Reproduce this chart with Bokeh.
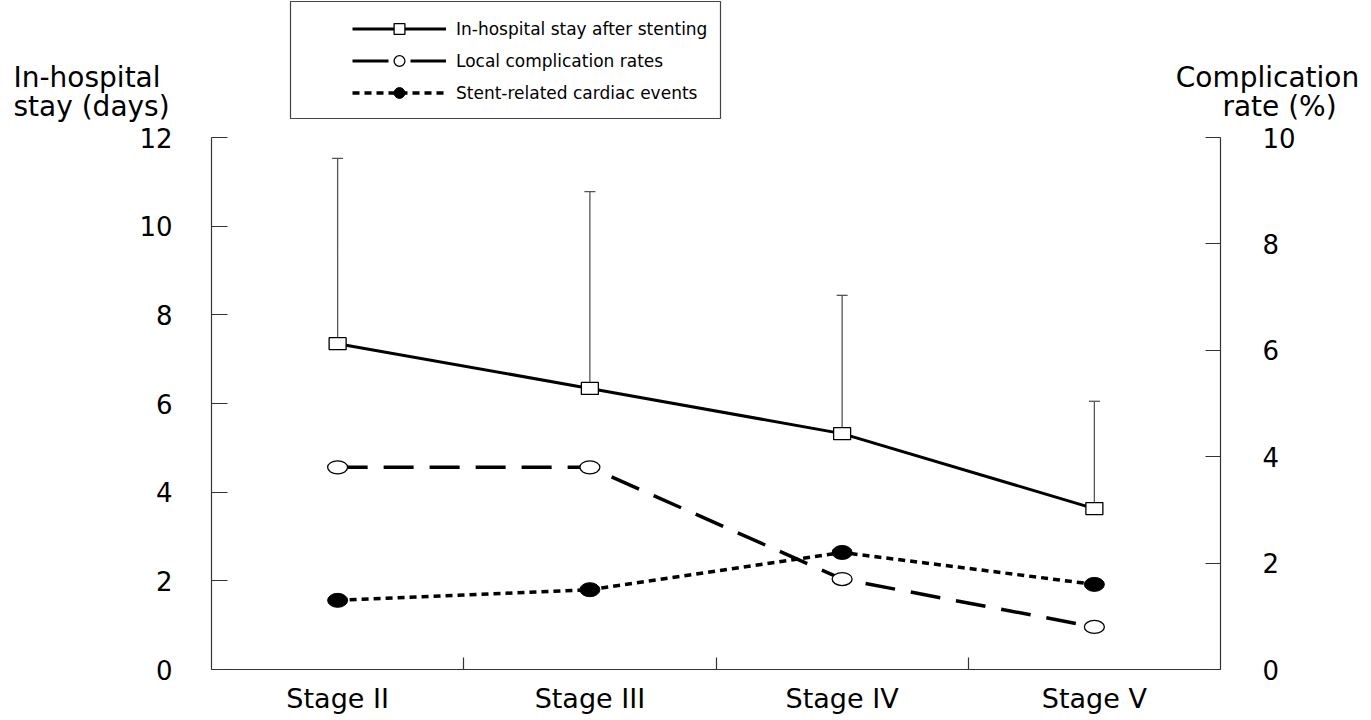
from bokeh.plotting import figure
from bokeh.models import (Range1d, LinearAxis, FixedTicker, Legend, LegendItem, Label,
                          Whisker, TeeHead, ColumnDataSource, BoxAnnotation)
from bokeh.embed import file_html
from bokeh.resources import INLINE

# ---- data ----
stages = ["Stage II", "Stage III", "Stage IV", "Stage V"]
stay_mean = [7.35, 6.34, 5.32, 3.63]        # days (left axis)
stay_upper = [11.53, 10.78, 8.44, 6.05]     # mean + SD (days)
local_rate = [3.8, 3.8, 1.7, 0.8]           # % (right axis)
cardiac_rate = [1.3, 1.5, 2.2, 1.6]         # % (right axis)
left_ticks = [0, 2, 4, 6, 8, 10, 12]
right_ticks = [0, 2, 4, 6, 8, 10]
series_names = ["In-hospital stay after stenting", "Local complication rates",
                "Stent-related cardiac events"]
left_title = ["In-hospital", "stay (days)"]
right_title = ["Complication", "rate (%)"]

# ---- layout (pixels) ----
W, H = 1371, 720
PX_L, PX_R, PX_T, PX_B = 211, 1220, 137, 669   # plotting area inside the canvas
LEFT_MAX, RIGHT_MAX = 12, 10
AX = "#333333"
FONT = "DejaVu Sans"

n = len(stages)
xpos = [i + 0.5 for i in range(n)]
bounds = [i for i in range(1, n)]

xs = n / (PX_R - PX_L)
ys = LEFT_MAX / (PX_B - PX_T)
rs = RIGHT_MAX / (PX_B - PX_T)

src = ColumnDataSource(dict(x=xpos, stay=stay_mean, upper=stay_upper,
                            local=local_rate, cardiac=cardiac_rate))

p = figure(width=W, height=H, output_backend="svg", toolbar_location=None,
           x_range=Range1d(-PX_L * xs, n + (W - PX_R) * xs),
           y_range=Range1d(-(H - PX_B) * ys, LEFT_MAX + PX_T * ys),
           x_axis_type=None, y_axis_type=None,
           min_border_left=0, min_border_right=0, min_border_top=0, min_border_bottom=0)
p.extra_y_ranges = {"rate": Range1d(-(H - PX_B) * rs, RIGHT_MAX + PX_T * rs)}
p.outline_line_color = None
p.background_fill_color = "white"
p.border_fill_color = "white"

# bottom axis: labels at category centres, ticks at boundaries
xaxis = LinearAxis(ticker=FixedTicker(ticks=xpos, minor_ticks=bounds),
                   major_label_overrides={x: s for x, s in zip(xpos, stages)},
                   fixed_location=0, bounds=(0, n))
xaxis.major_tick_line_color = None
xaxis.major_tick_in = 0
xaxis.major_tick_out = 0
xaxis.minor_tick_in = 12
xaxis.minor_tick_out = 0
xaxis.minor_tick_line_color = AX
xaxis.minor_tick_line_width = 1.2
xaxis.axis_line_color = AX
xaxis.axis_line_width = 1.2
xaxis.major_label_text_font = FONT
xaxis.major_label_text_font_size = "27px"
xaxis.major_label_text_color = "black"
xaxis.major_label_standoff = 13
p.add_layout(xaxis, "below")

yaxis = LinearAxis(ticker=FixedTicker(ticks=left_ticks), fixed_location=0,
                   bounds=(0, LEFT_MAX))
yaxis.major_tick_in = 16
yaxis.major_tick_out = 0
yaxis.minor_tick_line_color = None
yaxis.major_tick_line_color = AX
yaxis.major_tick_line_width = 1.2
yaxis.axis_line_color = AX
yaxis.axis_line_width = 1.2
yaxis.major_label_text_font = FONT
yaxis.major_label_text_font_size = "26px"
yaxis.major_label_text_color = "black"
yaxis.major_label_standoff = 39
p.add_layout(yaxis, "left")

raxis = LinearAxis(y_range_name="rate", ticker=FixedTicker(ticks=right_ticks),
                   fixed_location=n, bounds=(0, RIGHT_MAX))
raxis.major_tick_in = 15
raxis.major_tick_out = 0
raxis.minor_tick_line_color = None
raxis.major_tick_line_color = AX
raxis.major_tick_line_width = 1.2
raxis.axis_line_color = AX
raxis.axis_line_width = 1.2
raxis.major_label_text_font = FONT
raxis.major_label_text_font_size = "26px"
raxis.major_label_text_color = "black"
raxis.major_label_standoff = 42
p.add_layout(raxis, "right")

# error bars (upper only)
whisker = Whisker(base="x", upper="upper", lower="stay", source=src, dimension="height",
                  line_color="#555555", line_width=1.3,
                  upper_head=TeeHead(size=11, line_color="#555555", line_width=1.3),
                  lower_head=None, level="underlay")
p.add_layout(whisker)

stay_line = p.line("x", "stay", source=src, line_color="black", line_width=3)
p.rect("x", "stay", source=src, width=17, height=12, width_units="screen",
       height_units="screen", fill_color="white", line_color="black", line_width=1.3)

p.line("x", "local", source=src, y_range_name="rate", line_color="black",
       line_width=3.5, line_dash="30 16")
p.ellipse("x", "local", source=src, y_range_name="rate", width=20, height=13,
          width_units="screen", height_units="screen",
          fill_color="white", line_color="black", line_width=1.3)

card_line = p.line("x", "cardiac", source=src, y_range_name="rate", line_color="black",
                   line_width=3.5, line_dash="7 5")
p.ellipse("x", "cardiac", source=src, y_range_name="rate", width=20, height=14,
          width_units="screen", height_units="screen",
          fill_color="black", line_color="black", line_width=1)

# hidden legend proxies sharing the chart's data
m1 = p.scatter("x", "stay", source=src, marker="square", size=13,
               fill_color="white", line_color="black", line_width=1.3, visible=False)
l2 = p.line("x", "local", source=src, y_range_name="rate", line_color="black",
            line_width=3, line_dash="36 22", visible=False)
m2 = p.scatter("x", "local", source=src, y_range_name="rate", marker="circle", size=14,
               fill_color="white", line_color="black", line_width=1.3, visible=False)
m3 = p.scatter("x", "cardiac", source=src, y_range_name="rate", marker="circle", size=15,
               fill_color="black", line_color="black", visible=False)

# legend frame box (wider on the left than the legend's own padding allows)
p.add_layout(BoxAnnotation(left=290, right=720, top=H - 1, bottom=H - 118,
                           left_units="screen", right_units="screen",
                           top_units="screen", bottom_units="screen",
                           fill_color=None, fill_alpha=0,
                           line_color="#444444", line_width=1.2, line_alpha=1))

legend = Legend(items=[
    LegendItem(label=series_names[0], renderers=[stay_line, m1]),
    LegendItem(label=series_names[1], renderers=[l2, m2]),
    LegendItem(label=series_names[2], renderers=[card_line, m3]),
], location=(352, H - 106), orientation="vertical", glyph_width=94, glyph_height=27,
   label_height=27, spacing=5, padding=0, margin=0, label_standoff=10,
   border_line_color=None, background_fill_alpha=0,
   label_text_font=FONT, label_text_font_size="17px", label_text_color="black",
   click_policy="none")
p.add_layout(legend)

# axis titles (screen pixels, y from bottom)
for txt, x, base, align in [(left_title[0], 13, 77, "left"),
                            (left_title[1], 13, 106, "left"),
                            (right_title[0], 1267, 77, "center"),
                            (right_title[1], 1279, 106, "center")]:
    p.add_layout(Label(x=x, y=H - base, x_units="screen", y_units="screen", text=txt,
                       text_font=FONT, text_font_size="28px", text_color="black",
                       text_align=align, text_baseline="alphabetic"))

open("out.html", "w").write(file_html(p, INLINE))
